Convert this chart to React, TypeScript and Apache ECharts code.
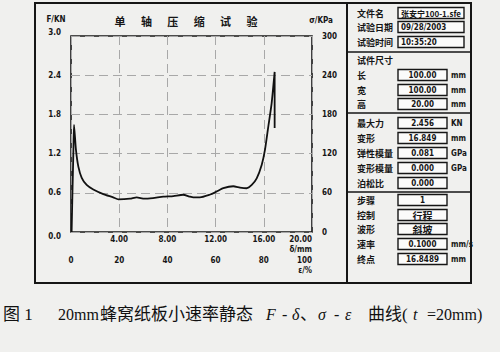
import React, { useEffect, useRef } from "react";
import * as echarts from "echarts";

// F-δ curve
const deltaMm = [0.05, 0.12, 0.2, 0.25, 0.41, 0.61, 0.89, 1.3, 1.85, 2.68, 3.5, 3.93, 4.9, 5.45, 6.1, 6.8, 7.66, 8.5, 9.3, 9.88, 10.15, 10.7, 11.5, 12.0, 12.64, 13.47, 14.02, 14.58, 15.0, 15.41, 15.83, 16.1, 16.37, 16.65, 16.9, 16.9];
const forceKN = [0.0, 0.6, 1.25, 1.64, 1.26, 1.0, 0.83, 0.72, 0.65, 0.58, 0.53, 0.5, 0.51, 0.53, 0.51, 0.52, 0.54, 0.55, 0.57, 0.54, 0.53, 0.53, 0.57, 0.61, 0.67, 0.7, 0.68, 0.67, 0.72, 0.82, 1.03, 1.26, 1.61, 1.97, 2.45, 1.59];

// axes
const deltaRange = [0, 20, 4];
const strainRange = [0, 100, 20];
const forceRange = [0, 3, 0.6];
const stressRange = [0, 300, 60];

const titleChars = ["单", "轴", "压", "缩", "试", "验"];

// right-hand info panel
const headerRows = [
  { label: "文件名", value: "张安宁100-1.sfe" },
  { label: "试验日期", value: "09/28/2003" },
  { label: "试验时间", value: "10:35:20" },
];
const sizeRows = [
  { label: "长", value: "100.00", unit: "mm" },
  { label: "宽", value: "100.00", unit: "mm" },
  { label: "高", value: "20.00", unit: "mm" },
];
const resultRows = [
  { label: "最大力", value: "2.456", unit: "KN" },
  { label: "变形", value: "16.849", unit: "mm" },
  { label: "弹性模量", value: "0.081", unit: "GPa" },
  { label: "变形模量", value: "0.000", unit: "GPa" },
  { label: "泊松比", value: "0.000", unit: "" },
];
const stepRows = [
  { label: "步骤", value: "1", unit: "" },
  { label: "控制", value: "行程", unit: "" },
  { label: "波形", value: "斜坡", unit: "" },
  { label: "速率", value: "0.1000", unit: "mm/s" },
  { label: "终点", value: "16.8489", unit: "mm" },
];

// caption pieces: [text, x, italic]
const captionPieces: [string, number, boolean][] = [
  ["图 1", 3, false],
  ["20mm", 58, false],
  ["蜂窝纸板小速率静态", 100, false],
  ["F", 266, true],
  ["-", 282, false],
  ["δ", 292, true],
  ["、", 300, false],
  ["σ", 318, true],
  ["-", 334, false],
  ["ε", 345, true],
  ["曲线(", 368, false],
  ["t", 413, true],
  ["=20mm)", 427, false],
];

const INK = "#161616";
const NUM_FONT = "'DejaVu Sans Condensed', 'Liberation Sans Narrow', 'Liberation Sans', Arial, sans-serif";
const CJK_FONT = "'Noto Sans CJK SC', sans-serif";

export default function App() {
  const ref = useRef<HTMLDivElement>(null);

  useEffect(() => {
    if (!ref.current) return;
    const chart = echarts.init(ref.current, null, { renderer: "svg" });

    const g: any[] = [];
    // outer frame
    g.push({ type: "rect", shape: { x: 35, y: 3, width: 436, height: 280 }, style: { fill: "none", stroke: INK, lineWidth: 2 }, silent: true });
    g.push({ type: "line", shape: { x1: 347, y1: 3, x2: 347, y2: 283 }, style: { stroke: INK, lineWidth: 2 }, silent: true });
    // chart header
    titleChars.forEach((c, i) => {
      g.push({ type: "text", x: 120 + i * 26.4, y: 21, style: { text: c, fill: INK, font: `bold 11px ${CJK_FONT}`, textAlign: "center", textVerticalAlign: "middle" } });
    });
    g.push({ type: "text", x: 56, y: 19, style: { text: "F/KN", fill: INK, font: `bold 8px ${NUM_FONT}`, textAlign: "center", textVerticalAlign: "middle" } });
    g.push({ type: "text", x: 321, y: 20, style: { text: "σ/KPa", fill: INK, font: `bold 8px ${NUM_FONT}`, textAlign: "center", textVerticalAlign: "middle" } });

    const labelX = 357;
    const boxL = 398;
    const boxW = 49;
    const unitX = 451;
    const addLabel = (t: string, y: number) =>
      g.push({ type: "text", x: labelX, y, style: { text: t, fill: INK, font: `bold 9px ${CJK_FONT}`, textAlign: "left", textVerticalAlign: "middle" } });
    const addBox = (x: number, w: number, y: number) =>
      g.push({ type: "rect", shape: { x, y: y - 5.5, width: w, height: 11 }, style: { fill: "#fbfbfa", stroke: INK, lineWidth: 1.4 } });
    const valFont = (v: string) => (/[\u4e00-\u9fff]/.test(v) ? `bold 10px ${CJK_FONT}` : `bold 8px ${NUM_FONT}`);

    const headerY = [13, 27, 42];
    headerRows.forEach((r, i) => {
      const y = headerY[i];
      addLabel(r.label, y);
      addBox(boxL, 66, y);
      g.push({ type: "text", x: boxL + 3, y, style: { text: r.value, fill: INK, font: i === 0 ? `bold 8px ${CJK_FONT}` : `bold 8px ${NUM_FONT}`, textAlign: "left", textVerticalAlign: "middle" } });
    });
    [52, 113, 192].forEach((y) => g.push({ type: "line", shape: { x1: 347, y1: y, x2: 471, y2: y }, style: { stroke: INK, lineWidth: 1.6 } }));
    addLabel("试件尺寸", 60);

    const rowBlock = (rows: any[], ys: number[]) => {
      rows.forEach((r, i) => {
        const y = ys[i];
        addLabel(r.label, y);
        addBox(boxL, boxW, y);
        g.push({ type: "text", x: boxL + boxW / 2, y, style: { text: r.value, fill: INK, font: valFont(r.value), textAlign: "center", textVerticalAlign: "middle" } });
        if (r.unit) g.push({ type: "text", x: unitX, y, style: { text: r.unit, fill: INK, font: `bold 8px ${NUM_FONT}`, textAlign: "left", textVerticalAlign: "middle" } });
      });
    };
    rowBlock(sizeRows, [75, 90, 104]);
    rowBlock(resultRows, [123, 138, 153, 168, 183]);
    rowBlock(stepRows, [200, 215, 229, 244, 259]);

    // caption
    captionPieces.forEach(([t, x, it]) => {
      const cjk = /[\u3000-\u9fff]/.test(t);
      g.push({
        type: "text",
        x,
        y: 314,
        style: {
          text: t,
          fill: "#111",
          font: `${it ? "italic " : ""}${cjk ? "17px" : "16px"} 'Liberation Serif', ${CJK_FONT}`,
          textAlign: "left",
          textVerticalAlign: "middle",
        },
      });
    });

    const labelStyle = { color: INK, fontSize: 8, fontWeight: "bold" as const, fontFamily: NUM_FONT };
    const dashed = { show: true, lineStyle: { color: "#a8a8a8", type: [9, 5] as any, width: 1 } };

    const option: any = {
      animation: false,
      backgroundColor: "transparent",
      grid: { left: 71, top: 36, width: 241, height: 196, show: true, borderColor: INK, borderWidth: 1.6, backgroundColor: "transparent" },
      xAxis: [
        {
          type: "value",
          min: deltaRange[0],
          max: deltaRange[1],
          interval: deltaRange[2],
          position: "bottom",
          axisLine: { show: false },
          axisTick: { show: false },
          splitLine: dashed,
          axisLabel: {
            ...labelStyle,
            margin: 2,
            lineHeight: 10,
            verticalAlign: "top",
            alignMaxLabel: "right",
            formatter: (v: number) => (v === 0 ? "" : v === 20 ? "20.00\nδ/mm" : v.toFixed(2)),
          },
        },
        {
          type: "value",
          min: strainRange[0],
          max: strainRange[1],
          interval: strainRange[2],
          position: "bottom",
          offset: 21,
          axisLine: { show: false },
          axisTick: { show: false },
          splitLine: { show: false },
          axisLabel: {
            ...labelStyle,
            margin: 2,
            lineHeight: 10,
            verticalAlign: "top",
            alignMaxLabel: "right",
            formatter: (v: number) => (v === 100 ? "100\nε/%" : String(v)),
          },
        },
      ],
      yAxis: [
        {
          type: "value",
          min: forceRange[0],
          max: forceRange[1],
          interval: forceRange[2],
          position: "left",
          axisLine: { show: false },
          axisTick: { show: false },
          splitLine: dashed,
          axisLabel: {
            ...labelStyle,
            margin: 10,
            verticalAlignMinLabel: "top",
            verticalAlignMaxLabel: "bottom",
            formatter: (v: number) => v.toFixed(1),
          },
        },
        {
          type: "value",
          min: stressRange[0],
          max: stressRange[1],
          interval: stressRange[2],
          position: "right",
          axisLine: { show: false },
          axisTick: { show: false },
          splitLine: { show: false },
          axisLabel: { ...labelStyle, margin: 10, formatter: (v: number) => String(v) },
        },
      ],
      series: [
        {
          type: "line",
          xAxisIndex: 0,
          yAxisIndex: 0,
          data: deltaMm.map((d, i) => [d, forceKN[i]]),
          showSymbol: false,
          smooth: 0.2,
          lineStyle: { color: "#111", width: 1.8 },
        },
      ],
      graphic: g,
    };

    chart.setOption(option);
    return () => chart.dispose();
  }, []);

  return (
    <div
      ref={ref}
      style={{ position: "fixed", left: 0, top: 0, width: 500, height: 352, background: "#f0f0ee" }}
    />
  );
}
